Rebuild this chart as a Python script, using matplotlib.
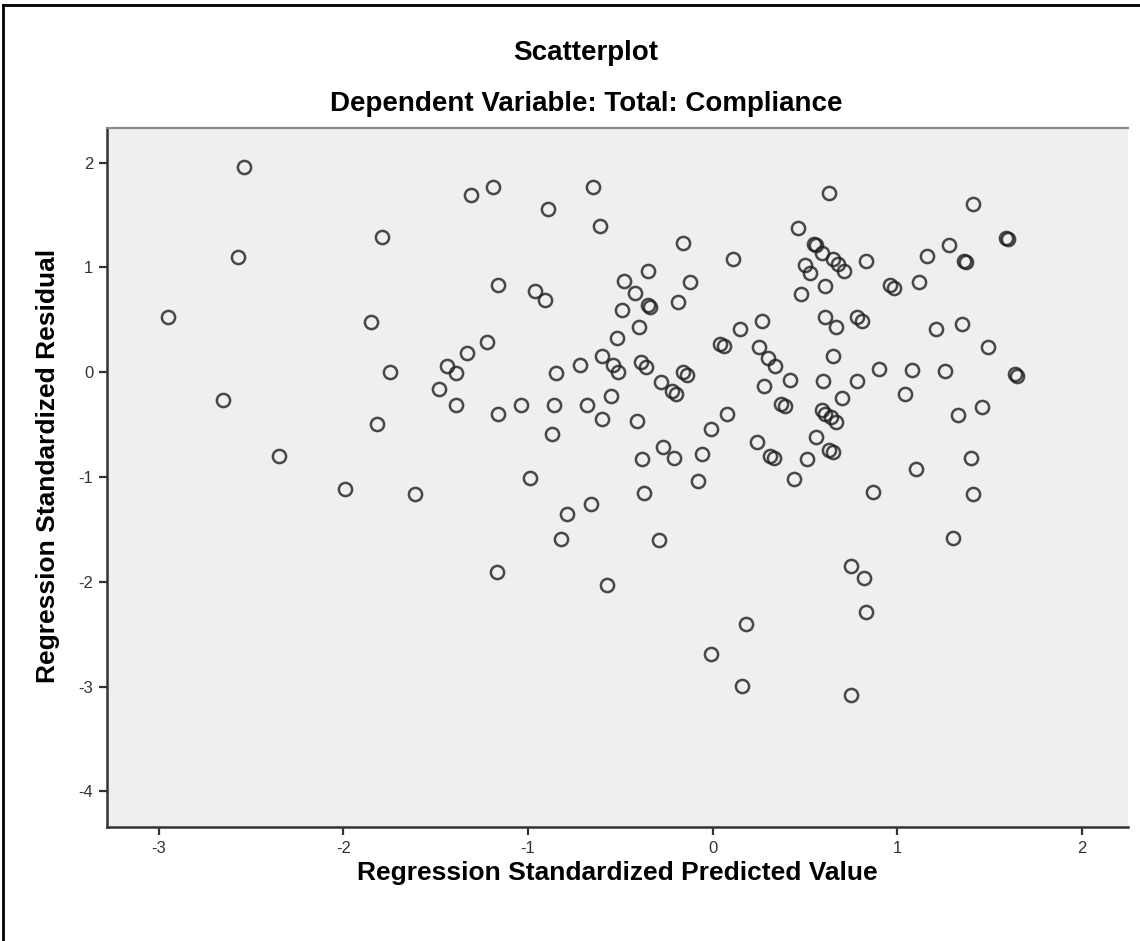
import numpy as np
import matplotlib.pyplot as plt
from matplotlib.lines import Line2D

pred = [-2.95, -2.65, -2.57, -2.54, -2.35, -1.99, -1.85, -1.82, -1.79, -1.75,
        -1.61, -1.48, -1.44, -1.39, -1.39, -1.33, -1.31, -1.22, -1.19, -1.16,
        -1.16, -1.17, -1.04, -0.99, -0.96, -0.91, -0.89, -0.86, -0.85, -0.87,
        -0.82, -0.79, -0.72, -0.68, -0.66, -0.65, -0.61, -0.60, -0.60, -0.57,
        -0.54, -0.55, -0.51, -0.52, -0.49, -0.48, -0.42, -0.41, -0.40, -0.39,
        -0.36, -0.38, -0.37, -0.35, -0.35, -0.34, -0.29, -0.28, -0.27, -0.22,
        -0.20, -0.21, -0.19, -0.16, -0.16, -0.14, -0.12, -0.08, -0.06, -0.01,
        -0.01, 0.04, 0.06, 0.08, 0.11, 0.15, 0.16, 0.18, 0.24, 0.25,
        0.27, 0.28, 0.30, 0.31, 0.33, 0.34, 0.37, 0.39, 0.42, 0.44,
        0.46, 0.48, 0.50, 0.51, 0.53, 0.55, 0.56, 0.56, 0.59, 0.59,
        0.61, 0.64, 0.67, 0.61, 0.61, 0.60, 0.63, 0.63, 0.65, 0.65,
        0.65, 0.67, 0.68, 0.70, 0.71, 0.75, 0.75, 0.78, 0.81, 0.78,
        0.82, 0.83, 0.83, 0.87, 0.90, 0.96, 0.98, 1.04, 1.08, 1.10,
        1.12, 1.16, 1.21, 1.26, 1.28, 1.30, 1.33, 1.35, 1.36, 1.37,
        1.40, 1.41, 1.41, 1.46, 1.49, 1.59, 1.60, 1.64, 1.65]
resid = [0.53, -0.27, 1.10, 1.96, -0.80, -1.11, 0.48, -0.49, 1.29, 0.00,
         -1.16, -0.16, 0.06, -0.01, -0.31, 0.18, 1.69, 0.29, 1.77, 0.83,
         -0.40, -1.91, -0.31, -1.01, 0.77, 0.69, 1.56, -0.31, -0.01, -0.59,
         -1.59, -1.35, 0.07, -0.31, -1.26, 1.77, 1.39, 0.15, -0.45, -2.03,
         0.07, -0.23, 0.00, 0.33, 0.59, 0.87, 0.76, -0.47, 0.43, 0.10,
         0.05, -0.83, -1.15, 0.97, 0.64, 0.62, -1.60, -0.09, -0.71, -0.18,
         -0.21, -0.82, 0.67, 1.23, 0.00, -0.03, 0.86, -1.04, -0.78, -0.54,
         -2.69, 0.27, 0.25, -0.40, 1.08, 0.41, -2.99, -2.40, -0.67, 0.24,
         0.49, -0.13, 0.14, -0.80, -0.82, 0.06, -0.30, -0.32, -0.07, -1.02,
         1.38, 0.75, 1.02, -0.83, 0.95, 1.22, 1.21, -0.62, 1.14, -0.36,
         -0.40, -0.43, -0.48, 0.82, 0.53, -0.08, 1.71, -0.74, -0.76, 1.08,
         0.15, 0.43, 1.03, -0.25, 0.97, -1.85, -3.08, 0.53, 0.49, -0.08,
         -1.96, -2.29, 1.06, -1.14, 0.03, 0.83, 0.80, -0.21, 0.02, -0.92,
         0.86, 1.11, 0.41, 0.01, 1.21, -1.58, -0.41, 0.46, 1.06, 1.05,
         -0.82, 1.60, -1.16, -0.33, 0.24, 1.28, 1.27, -0.02, -0.04]

x_ticks = [-3, -2, -1, 0, 1, 2]
y_ticks = [-4, -3, -2, -1, 0, 1, 2]

plt.rcParams['font.family'] = ['Liberation Sans', 'DejaVu Sans']
plt.rcParams['axes.unicode_minus'] = False

fig = plt.figure(figsize=(11.4, 9.41), dpi=100)
ax = fig.add_axes([0.0939, 0.1211, 0.8956, 0.7429])
ax.set_facecolor("#efefef")

ax.plot(pred, resid, linestyle="none", marker="o", markersize=9.5,
        markerfacecolor="none", markeredgecolor="#1e1e1e",
        markeredgewidth=1.8, alpha=0.8)

ax.set_xlim(-3.28, 2.25)
ax.set_ylim(-4.34, 2.33)
ax.set_xticks(x_ticks)
ax.set_yticks(y_ticks)
ax.tick_params(direction="out", length=6, width=1.6, color="#333333",
               labelsize=12, labelcolor="#333333", pad=4)

ax.spines["left"].set_linewidth(1.8)
ax.spines["left"].set_color("#333333")
ax.spines["bottom"].set_linewidth(1.8)
ax.spines["bottom"].set_color("#333333")
ax.spines["top"].set_linewidth(1.6)
ax.spines["top"].set_color("#8a8a8a")
ax.spines["right"].set_visible(False)

ax.set_xlabel("Regression Standardized Predicted Value", fontsize=19,
              fontweight="bold", labelpad=4)
ax.set_ylabel("Regression Standardized Residual", fontsize=19,
              fontweight="bold")
ax.yaxis.set_label_coords(-0.046, 0.516)

fig.text(0.514, 0.944, "Scatterplot", ha="center", va="center",
         fontsize=20, fontweight="bold")
fig.text(0.514, 0.890, "Dependent Variable: Total: Compliance", ha="center",
         va="center", fontsize=20, fontweight="bold")

# outer frame (top and left edges only, as in the scan)
fig.add_artist(Line2D([0.003, 0.003], [0, 0.995], transform=fig.transFigure,
                      color="black", linewidth=2))
fig.add_artist(Line2D([0.003, 1.0], [0.995, 0.995], transform=fig.transFigure,
                      color="black", linewidth=2))

plt.savefig("out.png", dpi=100)
